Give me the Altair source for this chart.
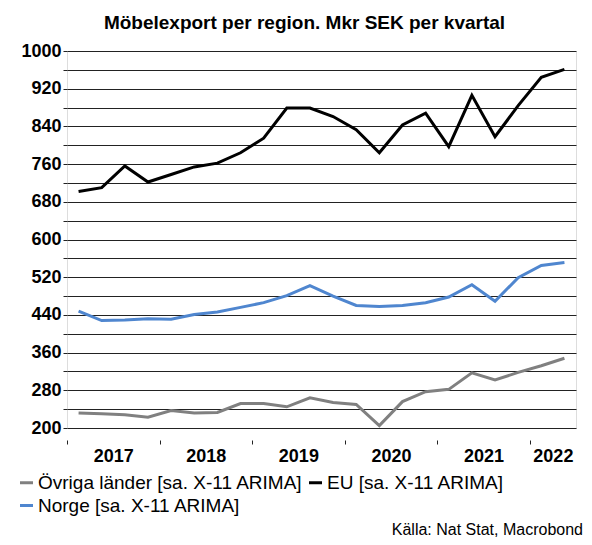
import altair as alt
import pandas as pd

# ---- data -------------------------------------------------------------
quarters = [
    "2017Q1", "2017Q2", "2017Q3", "2017Q4",
    "2018Q1", "2018Q2", "2018Q3", "2018Q4",
    "2019Q1", "2019Q2", "2019Q3", "2019Q4",
    "2020Q1", "2020Q2", "2020Q3", "2020Q4",
    "2021Q1", "2021Q2", "2021Q3", "2021Q4",
    "2022Q1", "2022Q2",
]
ovriga = [232, 230, 228, 223, 237, 232, 233, 252, 252, 245, 264, 254,
          250, 205, 256, 277, 282, 317, 302, 318, 332, 348]
eu = [702, 710, 756, 722, 738, 754, 762, 784, 815, 879, 879, 861,
      833, 784, 843, 868, 797, 906, 818, 884, 944, 961]
norge = [448, 428, 429, 432, 431, 441, 446, 456, 466, 481, 502, 480,
         460, 458, 460, 466, 478, 504, 469, 519, 545, 551]

series_names = [
    "Övriga länder [sa. X-11 ARIMA]",
    "EU [sa. X-11 ARIMA]",
    "Norge [sa. X-11 ARIMA]",
]
series_colors = ["#808080", "#000000", "#4F86CF"]
years = ["2017", "2018", "2019", "2020", "2021", "2022"]
y_ticks = list(range(200, 1001, 40))
y_labels = list(range(200, 1001, 80))
title_text = "Möbelexport per region. Mkr SEK per kvartal"
source_text = "Källa: Nat Stat, Macrobond"

FONT = "Liberation Sans"

# ---- build table ------------------------------------------------------
rows = []
for name, vals in zip(series_names, [ovriga, eu, norge]):
    for i, (q, v) in enumerate(zip(quarters, vals)):
        rows.append({"quarter": q, "pos": i + 0.5, "value": v, "series": name})
df = pd.DataFrame(rows)

year_start = {}
year_end = {}
for i, q in enumerate(quarters):
    y = q[:4]
    year_start.setdefault(y, i)
    year_end[y] = i + 1
tick_vals = [year_start[y] for y in years]
label_pos = [(year_start[y] + year_end[y]) / 2 for y in years]
x_values = sorted(set(tick_vals + label_pos))
label_expr = " : ".join(
    [f"datum.value == {p} ? '{y}'" for p, y in zip(label_pos, years)]
) + " : ''"
tick_test = " || ".join([f"datum.value == {t}" for t in tick_vals])
y_label_expr = ("indexof([" + ",".join(str(v) for v in y_labels)
                + "], datum.value) >= 0 ? format(datum.value, 'd') : ''")

n = len(quarters)

lines = alt.Chart(df).mark_line(strokeWidth=3).encode(
    x=alt.X(
        "pos:Q",
        scale=alt.Scale(domain=[0, n], nice=False, zero=False),
        axis=alt.Axis(
            values=x_values,
            labelExpr=label_expr,
            tickOpacity={"condition": {"test": tick_test, "value": 1}, "value": 0},
            grid=False,
            domain=False,
            offset=12,
            tickSize=4,
            tickColor="#222222",
            tickWidth=1,
            labelPadding=3,
            labelFont=FONT,
            labelFontSize=18,
            labelFontWeight="bold",
            labelColor="black",
            labelAngle=0,
            labelFlush=False,
            labelOverlap=False,
            title=None,
        ),
    ),
    y=alt.Y(
        "value:Q",
        scale=alt.Scale(domain=[200, 1000], nice=False, zero=False),
        axis=alt.Axis(
            values=y_ticks,
            labelExpr=y_label_expr,
            grid=True,
            gridColor="#222222",
            gridWidth=1,
            tickSize=4,
            tickColor="#222222",
            domain=False,
            labelFont=FONT,
            labelFontSize=18,
            labelFontWeight="bold",
            labelColor="black",
            labelPadding=2,
            labelOverlap=False,
            title=None,
        ),
    ),
    color=alt.Color(
        "series:N",
        scale=alt.Scale(domain=series_names, range=series_colors),
        sort=series_names,
        legend=alt.Legend(
            orient="none",
            legendX=-50,
            legendY=422,
            columns=2,
            direction="horizontal",
            title=None,
            symbolType="stroke",
            symbolStrokeWidth=3,
            symbolSize=169,
            labelFont=FONT,
            labelFontSize=19,
            labelColor="black",
            labelLimit=500,
            labelOffset=2,
            columnPadding=0,
            rowPadding=3,
        ),
    ),
    detail="series:N",
)

source = alt.Chart(pd.DataFrame({"t": [source_text]})).mark_text(
    font=FONT, fontSize=16, align="right", baseline="middle", color="black"
).encode(text="t:N", x=alt.value(516), y=alt.value(479))

chart = alt.layer(lines, source).properties(
    width=509,
    height=377,
    title=alt.TitleParams(
        text=title_text,
        font=FONT,
        fontSize=19,
        fontWeight="bold",
        color="black",
        anchor="middle",
        dx=-17,
        offset=9,
    ),
    autosize=alt.AutoSizeParams(type="none"),
    padding={"left": 59, "top": 43, "right": 8, "bottom": 109},
).configure_view(stroke=None).configure(background="white")

chart.save("out.html", embed_options={"renderer": "svg", "actions": False})
